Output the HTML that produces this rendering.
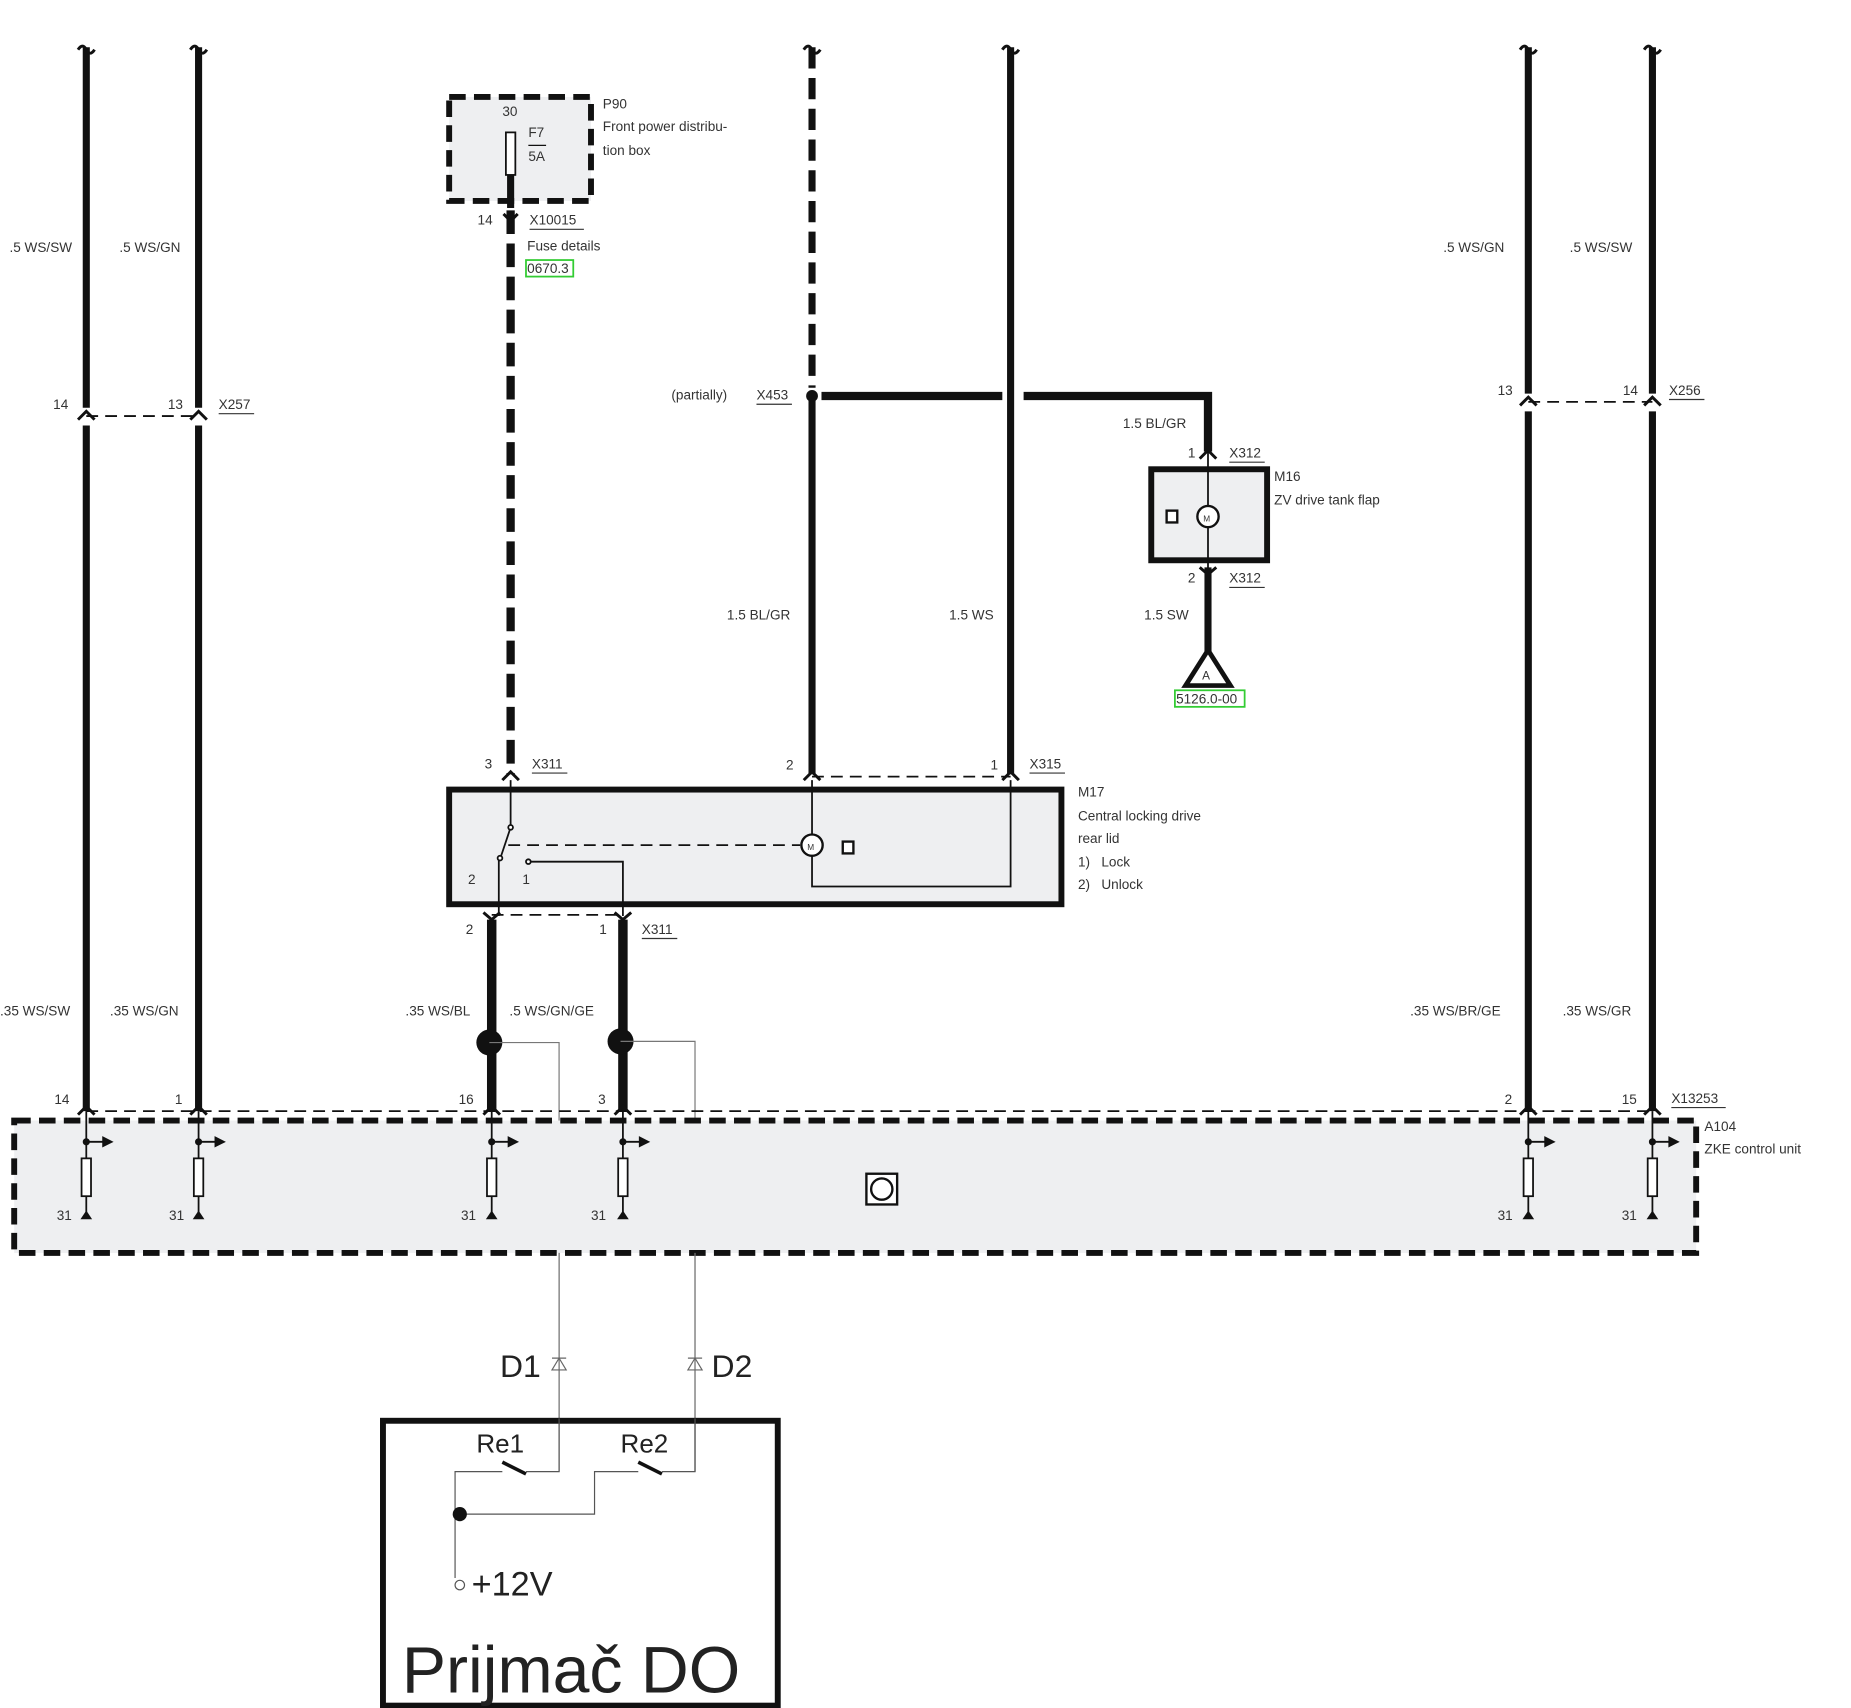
<!DOCTYPE html>
<html><head><meta charset="utf-8"><style>
html,body{margin:0;padding:0;background:#fff;}
svg{display:block;}
text{font-family:"Liberation Sans",sans-serif;fill:#333;font-size:11.5px;}
.big{fill:#222;}
</style></head><body>
<svg width="1851" height="1708" viewBox="0 0 1566 1445" preserveAspectRatio="none" xmlns="http://www.w3.org/2000/svg">
<defs>
<g id="p" stroke="#111" fill="none"><path d="M0 940V980M0 1012V1028M0 966H14" stroke-width="1.5"/><circle cx="0" cy="966" r="2.5" fill="#111"/><path d="M14 962l8 4-8 4z" fill="#111"/><rect x="-4" y="980" width="8" height="32" fill="#fff" stroke-width="1.5"/><path d="M-4 1031h8l-4-6z" fill="#111"/></g>
</defs>
<g stroke="#111" fill="none" stroke-linecap="butt">
<path d="M73 40V345M73 360V940M168 40V345M168 360V940" stroke-width="6"/>
<path d="M66 42q4-6 7 0q3 6 7 0M161 42q4-6 7 0q3 6 7 0" stroke-width="2.5"/>
<path d="M73 352H168" stroke-width="1.5" stroke-dasharray="10,6"/>
<path d="M66 355l7-7 7 7M161 355l7-7 7 7" stroke-width="2.5"/>
<path d="M1293 40V333M1293 348V940M1398 40V333M1398 348V940" stroke-width="6"/>
<path d="M1286 42q4-6 7 0q3 6 7 0M1391 42q4-6 7 0q3 6 7 0" stroke-width="2.5"/>
<path d="M1293 340H1398" stroke-width="1.5" stroke-dasharray="10,6"/>
<path d="M1286 343l7-7 7 7M1391 343l7-7 7 7" stroke-width="2.5"/>
<path d="M687 40V328" stroke-width="6" stroke-dasharray="18,8"/>
<path d="M687 335V655" stroke-width="6"/>
<path d="M680 42q4-6 7 0q3 6 7 0M848 42q4-6 7 0q3 6 7 0" stroke-width="2.5"/>
<path d="M855 40V655" stroke-width="6"/>
<path d="M695 335H848M866 335H1022V382" stroke-width="7"/>
<path d="M432 178V655" stroke-width="7" stroke-dasharray="20,8"/>
<rect x="380" y="82" width="120" height="88" fill="#eeeff1" stroke-width="5" stroke-dasharray="14,7"/>
<rect x="428" y="112" width="8" height="36" fill="#fff" stroke-width="1.5"/>
<path d="M432 148V176" stroke-width="6"/>
<path d="M426 181l6 6 6-6" stroke-width="2.5"/>
<path d="M447 123H462" stroke-width="1"/>
<rect x="974" y="397" width="98" height="77" fill="#eeeff1" stroke-width="5"/>
<path d="M1022 382V550" stroke-width="1.5"/>
<path d="M1015 388l7-7 7 7M1015 480l7 6 7-6" stroke-width="2.5"/>
<path d="M1022 480V552" stroke-width="6"/>
<circle cx="1022" cy="437" r="9" fill="#fff" stroke-width="2"/>
<rect x="987" y="432" width="9" height="10" fill="#fff" stroke-width="2"/>
<path d="M1022 550L1003 580H1041Z" fill="#fff" stroke-width="4"/>
<path d="M425 660l7-7 7 7M680 660l7-7 7 7M848 660l7-7 7 7" stroke-width="2.5"/>
<path d="M687 657H855" stroke-width="1.5" stroke-dasharray="10,6"/>
<rect x="380" y="668" width="518" height="97" fill="#eeeff1" stroke-width="5"/>
<path d="M432 660V700M432 700L424 724M422 724V775" stroke-width="1.5"/>
<circle cx="432" cy="700" r="2" fill="#fff" stroke-width="1.5"/>
<circle cx="423" cy="726" r="2" fill="#fff" stroke-width="1.5"/>
<path d="M430 715H677" stroke-width="1.5" stroke-dasharray="10,6"/>
<path d="M687 660V750H855V660" stroke-width="1.5"/>
<circle cx="687" cy="715" r="9" fill="#fff" stroke-width="2"/>
<rect x="713" y="712" width="9" height="10" fill="#fff" stroke-width="2"/>
<path d="M447 729H527V775" stroke-width="1.5"/>
<circle cx="447" cy="729" r="2" fill="#fff" stroke-width="1.5"/>
<path d="M409 772l7 6 7-6M520 772l7 6 7-6" stroke-width="2.5"/>
<path d="M416 774H527" stroke-width="1.5" stroke-dasharray="10,6"/>
<path d="M416 778V940M527 778V940" stroke-width="8"/>
<circle cx="414" cy="882" r="11" fill="#111" stroke="none"/>
<circle cx="525" cy="881" r="11" fill="#111" stroke="none"/>
<path d="M414 882H473V1245M525 881H588V1245" stroke="#777" stroke-width="1"/>
<path d="M73 940H1400" stroke-width="1.5" stroke-dasharray="10,6"/>
<rect x="12" y="948" width="1423" height="112" fill="#eeeff1" stroke-width="5" stroke-dasharray="14,7"/>
<path d="M66 943l7-7 7 7M161 943l7-7 7 7M409 943l7-7 7 7M520 943l7-7 7 7M1286 943l7-7 7 7M1391 943l7-7 7 7" stroke-width="2.5"/>
<path d="M473 1060V1200M588 1060V1245" stroke="#777" stroke-width="1"/>
</g>
<use href="#p" x="73"/><use href="#p" x="168"/><use href="#p" x="416"/><use href="#p" x="527"/><use href="#p" x="1293"/><use href="#p" x="1398"/>
<g stroke="#111" fill="none">
<rect x="733" y="993" width="26" height="26" fill="#fff" stroke-width="2"/>
<circle cx="746" cy="1006" r="9" stroke-width="2"/>
<path d="M467 1159h12l-6-10zM467 1149h12M582 1159h12l-6-10zM582 1149h12" stroke="#666" stroke-width="1"/>
<rect x="324" y="1202" width="334" height="241" stroke-width="5"/>
<path d="M473 1200V1245H445" stroke="#555" stroke-width="1"/>
<path d="M425 1237L445 1247M540 1237L560 1247" stroke-width="3"/>
<path d="M425 1245H385V1335M389 1281H503V1245H540M560 1245H588V1200" stroke="#555" stroke-width="1"/>
<circle cx="389" cy="1281" r="6" fill="#111" stroke="none"/>
<circle cx="389" cy="1341" r="4" fill="#fff" stroke="#555" stroke-width="1"/>
</g>
<g>
<text x="8" y="213">.5 WS/SW</text><text x="101" y="213">.5 WS/GN</text>
<text x="1221" y="213">.5 WS/GN</text><text x="1328" y="213">.5 WS/SW</text>
<text x="45" y="346">14</text><text x="142" y="346">13</text><text x="185" y="346">X257</text>
<path d="M185 350H215" stroke="#333"/>
<text x="1267" y="334">13</text><text x="1373" y="334">14</text><text x="1412" y="334">X256</text>
<path d="M1412 338H1442" stroke="#333"/>
<text x="425" y="98">30</text><text x="447" y="116">F7</text><text x="447" y="136">5A</text>
<text x="510" y="92">P90</text><text x="510" y="111">Front power distribu-</text><text x="510" y="131">tion box</text>
<text x="404" y="190">14</text><text x="448" y="190">X10015</text><path d="M448 194H494" stroke="#333"/>
<text x="446" y="212">Fuse details</text>
<rect x="445" y="220" width="40" height="14" fill="none" stroke="#3c3" stroke-width="1.5"/><text x="446" y="231">0670.3</text>
<text x="568" y="338">(partially)</text><text x="640" y="338">X453</text><path d="M640 342H670" stroke="#333"/>
<circle cx="687" cy="335" r="5" fill="#111"/>
<text x="950" y="362">1.5 BL/GR</text>
<text x="1005" y="387">1</text><text x="1040" y="387">X312</text><path d="M1040 391H1070" stroke="#333"/>
<text x="1078" y="407">M16</text><text x="1078" y="427">ZV drive tank flap</text>
<text x="1005" y="493">2</text><text x="1040" y="493">X312</text><path d="M1040 497H1070" stroke="#333"/>
<text x="1017" y="575" style="font-size:10px">A</text>
<text x="1018" y="441" style="font-size:7px">M</text>
<text x="683" y="719" style="font-size:7px">M</text>
<text x="615" y="524">1.5 BL/GR</text><text x="803" y="524">1.5 WS</text><text x="968" y="524">1.5 SW</text>
<rect x="994" y="584" width="59" height="14" fill="none" stroke="#3c3" stroke-width="1.5"/><text x="995" y="595">5126.0-00</text>
<text x="410" y="650">3</text><text x="450" y="650">X311</text><path d="M450 654H480" stroke="#333"/>
<text x="665" y="651">2</text><text x="838" y="651">1</text><text x="871" y="650">X315</text><path d="M871 654H901" stroke="#333"/>
<text x="912" y="674">M17</text><text x="912" y="694">Central locking drive</text><text x="912" y="713">rear lid</text>
<text x="912" y="733">1)&#160;&#160;&#160;Lock</text><text x="912" y="752">2)&#160;&#160;&#160;Unlock</text>
<text x="396" y="748">2</text><text x="442" y="748">1</text>
<text x="394" y="790">2</text><text x="507" y="790">1</text><text x="543" y="790">X311</text><path d="M543 794H573" stroke="#333"/>
<text x="0" y="859">.35 WS/SW</text><text x="93" y="859">.35 WS/GN</text><text x="343" y="859">.35 WS/BL</text><text x="431" y="859">.5 WS/GN/GE</text>
<text x="1193" y="859">.35 WS/BR/GE</text><text x="1322" y="859">.35 WS/GR</text>
<text x="46" y="934">14</text><text x="148" y="934">1</text><text x="388" y="934">16</text><text x="506" y="934">3</text>
<text x="1273" y="934">2</text><text x="1372" y="934">15</text><text x="1414" y="933">X13253</text><path d="M1414 937H1460" stroke="#333"/>
<text x="1442" y="957">A104</text><text x="1442" y="976">ZKE control unit</text>
<text x="48" y="1032">31</text><text x="143" y="1032">31</text><text x="390" y="1032">31</text><text x="500" y="1032">31</text><text x="1267" y="1032">31</text><text x="1372" y="1032">31</text>
<text class="big" x="423" y="1165" style="font-size:27px">D1</text>
<text class="big" x="602" y="1165" style="font-size:27px">D2</text>
<text class="big" x="403" y="1229" style="font-size:22px">Re1</text>
<text class="big" x="525" y="1229" style="font-size:22px">Re2</text>
<text class="big" x="399" y="1350" style="font-size:29px">+12V</text>
<text class="big" x="340" y="1432" style="font-size:56px">Prijmač DO</text>
</g>
</svg>
</body></html>
